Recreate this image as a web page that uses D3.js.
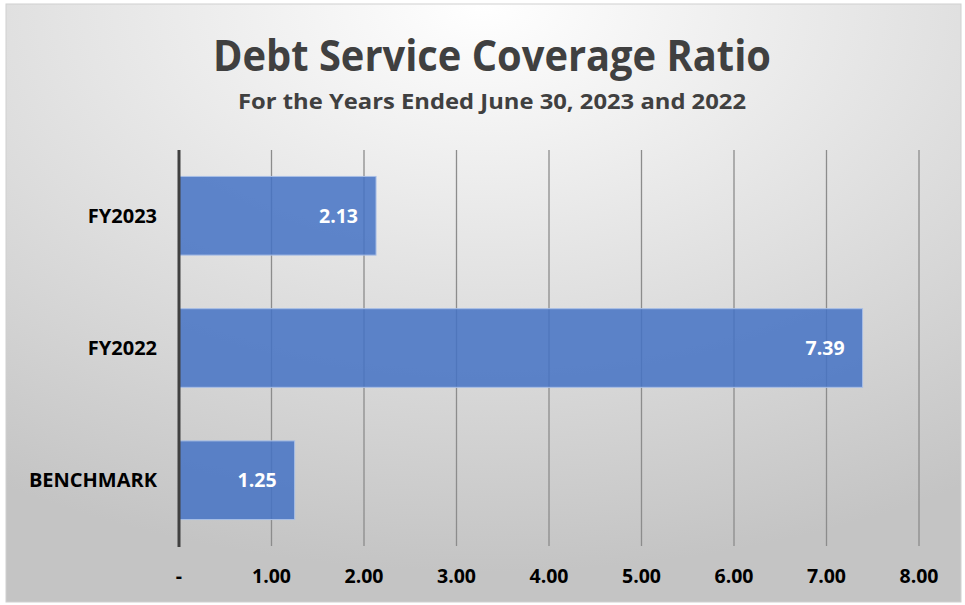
<!DOCTYPE html>
<html>
<head>
<meta charset="utf-8">
<script src="https://cdn.jsdelivr.net/npm/d3@7"></script>
<style>
  body { margin: 0; background: #fff; }
  svg text { font-family: "Open Sans", "Noto Sans", sans-serif; }
</style>
</head>
<body>
<div id="chart"></div>
<script>
// data
let categories = ["FY2023", "FY2022", "BENCHMARK"];
let ratios = [2.13, 7.39, 1.25];
let tickValues = [0, 1, 2, 3, 4, 5, 6, 7, 8];
let tickLabels = ["-", "1.00", "2.00", "3.00", "4.00", "5.00", "6.00", "7.00", "8.00"];

let width = 965, height = 605;
let margin = {top: 150, right: 46, bottom: 59, left: 179};

let svg = d3.select("#chart").append("svg")
    .attr("width", width)
    .attr("height", height);

// background gradient, light at top centre
let defs = svg.append("defs");
let grad = defs.append("radialGradient")
    .attr("id", "bg")
    .attr("cx", "50%").attr("cy", "0%")
    .attr("r", "95%")
    .attr("gradientUnits", "objectBoundingBox");
grad.append("stop").attr("offset", "0%").attr("stop-color", "#ffffff");
grad.append("stop").attr("offset", "100%").attr("stop-color", "#c4c4c4");

svg.append("rect")
    .attr("x", 6).attr("y", 4)
    .attr("width", width - 10).attr("height", height - 7)
    .attr("fill", "url(#bg)")
    .attr("stroke", "#d0d0d0")
    .attr("stroke-width", 1);

let x = d3.scaleLinear()
    .domain([0, 8])
    .range([margin.left, width - margin.right]);

let y = d3.scaleBand()
    .domain(categories)
    .range([margin.top, height - margin.bottom])
    .paddingInner(0.405)
    .paddingOuter(0.2);

// vertical gridlines
svg.append("g")
    .selectAll("line")
    .data(tickValues.slice(1))
    .enter()
    .append("line")
    .attr("x1", d => x(d))
    .attr("x2", d => x(d))
    .attr("y1", margin.top)
    .attr("y2", height - margin.bottom)
    .attr("stroke", "#8c8c8c")
    .attr("stroke-width", 1.3);

// bars
svg.append("g")
    .selectAll("rect")
    .data(ratios)
    .enter()
    .append("rect")
    .attr("x", x(0))
    .attr("y", (d, i) => y(categories[i]))
    .attr("width", d => x(d) - x(0))
    .attr("height", y.bandwidth())
    .attr("fill", "#4472c4")
    .attr("fill-opacity", 0.85)
    .attr("stroke", "#a9bfe6")
    .attr("stroke-width", 1);

// value labels
svg.append("g")
    .selectAll("text")
    .data(ratios)
    .enter()
    .append("text")
    .attr("x", d => x(d) - 18)
    .attr("y", (d, i) => y(categories[i]) + y.bandwidth() / 2)
    .attr("dy", "0.35em")
    .attr("text-anchor", "end")
    .attr("fill", "#ffffff")
    .attr("font-size", 19.5)
    .attr("font-weight", "bold")
    .text(d => d.toFixed(2));

// y axis line
svg.append("line")
    .attr("x1", x(0)).attr("x2", x(0))
    .attr("y1", margin.top)
    .attr("y2", height - margin.bottom + 1)
    .attr("stroke", "#404040")
    .attr("stroke-width", 3);

// category labels
svg.append("g")
    .selectAll("text")
    .data(categories)
    .enter()
    .append("text")
    .attr("x", 157)
    .attr("y", d => y(d) + y.bandwidth() / 2)
    .attr("dy", "0.35em")
    .attr("text-anchor", "end")
    .attr("fill", "#000")
    .attr("font-size", 20)
    .attr("font-weight", "bold")
    .text(d => d);

// x tick labels
svg.append("g")
    .selectAll("text")
    .data(tickValues)
    .enter()
    .append("text")
    .attr("x", d => x(d))
    .attr("y", 576)
    .attr("dy", "0.35em")
    .attr("text-anchor", "middle")
    .attr("fill", "#000")
    .attr("font-size", 19.5)
    .attr("font-weight", "bold")
    .text((d, i) => tickLabels[i]);

// titles
svg.append("text")
    .attr("x", 492)
    .attr("y", 71)
    .attr("text-anchor", "middle")
    .attr("fill", "#404040")
    .attr("font-size", 43)
    .attr("font-weight", "bold")
    .attr("textLength", 558)
    .attr("lengthAdjust", "spacingAndGlyphs")
    .text("Debt Service Coverage Ratio");

svg.append("text")
    .attr("x", 492)
    .attr("y", 109)
    .attr("text-anchor", "middle")
    .attr("fill", "#404040")
    .attr("font-size", 22)
    .attr("font-weight", "bold")
    .attr("textLength", 508)
    .attr("lengthAdjust", "spacingAndGlyphs")
    .text("For the Years Ended June 30, 2023 and 2022");
</script>
</body>
</html>
